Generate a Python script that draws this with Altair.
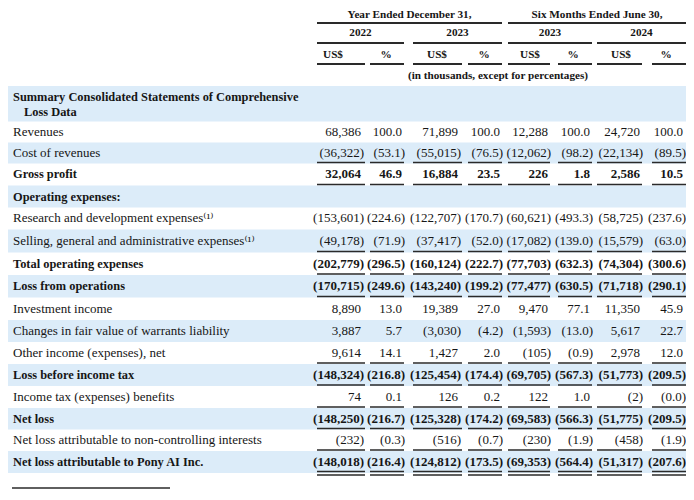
import math
import altair as alt
import pandas as pd

# ---------------- data ----------------
section_title = ["Summary Consolidated Statements of Comprehensive", "Loss Data"]
header_groups = ["Year Ended December 31,", "Six Months Ended June 30,"]
header_years = ["2022", "2023", "2023", "2024"]
column_units = ["US$", "%", "US$", "%", "US$", "%", "US$", "%"]
unit_note = "(in thousands, except for percentages)"

row_labels = [
    "Revenues",
    "Cost of revenues",
    "Gross profit",
    "Operating expenses:",
    "Research and development expenses\u207d\u00b9\u207e",
    "Selling, general and administrative expenses\u207d\u00b9\u207e",
    "Total operating expenses",
    "Loss from operations",
    "Investment income",
    "Changes in fair value of warrants liability",
    "Other income (expenses), net",
    "Loss before income tax",
    "Income tax (expenses) benefits",
    "Net loss",
    "Net loss attributable to non-controlling interests",
    "Net loss attributable to Pony AI Inc.",
]
bold_rows = [False, False, True, True, False, False, True, True,
             False, False, False, True, False, True, False, True]

usd_fy2022 = [68386, -36322, 32064, None, -153601, -49178, -202779, -170715,
              8890, 3887, 9614, -148324, 74, -148250, -232, -148018]
pct_fy2022 = [100.0, -53.1, 46.9, None, -224.6, -71.9, -296.5, -249.6,
              13.0, 5.7, 14.1, -216.8, 0.1, -216.7, -0.3, -216.4]
usd_fy2023 = [71899, -55015, 16884, None, -122707, -37417, -160124, -143240,
              19389, -3030, 1427, -125454, 126, -125328, -516, -124812]
pct_fy2023 = [100.0, -76.5, 23.5, None, -170.7, -52.0, -222.7, -199.2,
              27.0, -4.2, 2.0, -174.4, 0.2, -174.2, -0.7, -173.5]
usd_h12023 = [12288, -12062, 226, None, -60621, -17082, -77703, -77477,
              9470, -1593, -105, -69705, 122, -69583, -230, -69353]
pct_h12023 = [100.0, -98.2, 1.8, None, -493.3, -139.0, -632.3, -630.5,
              77.1, -13.0, -0.9, -567.3, 1.0, -566.3, -1.9, -564.4]
usd_h12024 = [24720, -22134, 2586, None, -58725, -15579, -74304, -71718,
              11350, 5617, 2978, -51773, -2, -51775, -458, -51317]
pct_h12024 = [100.0, -89.5, 10.5, None, -237.6, -63.0, -300.6, -290.1,
              45.9, 22.7, 12.0, -209.5, -0.0, -209.5, -1.9, -207.6]

columns = [usd_fy2022, pct_fy2022, usd_fy2023, pct_fy2023,
           usd_h12023, pct_h12023, usd_h12024, pct_h12024]

# rows that carry an underline beneath their figures (2 = double)
underlined = {1: 1, 2: 1, 5: 1, 6: 1, 7: 1, 10: 1, 11: 1, 12: 1, 13: 1, 14: 1, 15: 2}

# ---------------- layout (page pixels) ----------------
W, H = 678, 484
ROW_Y = [132, 153, 174, 197, 218, 241, 264, 286, 309, 331, 353, 375, 397, 419, 440, 462]
TITLE_Y = [97, 112]
TITLE_X = [13, 24]
BAND_TOP_FIRST = 86
LABEL_X = 13
COL_RIGHT = [361, 402, 458, 500, 548, 590, 640, 683]
PAREN_HANG = 3
COL_SPAN = [(317, 365), (370, 404), (413, 462), (468, 502),
            (508, 550), (558, 592), (597, 642), (652, 686)]
GROUP_SPAN = [(317, 502), (508, 686)]
YEAR_SPAN = [(317, 404), (413, 502), (508, 592), (597, 686)]
UNIT_X = [333, 386, 437, 484, 530, 573, 621, 666]
HDR_Y = [14.5, 33, 55, 76]
HDR_RULE_Y = [23, 43, 64]
NOTE_X = 498
BAND_X = (8, 686)
FOOT_RULE = (12, 170, 488)

FONT = "Liberation Serif, Times New Roman, DejaVu Serif, serif"
INK = "#161616"
BLUE = "#dcecf9"
LINE = "#2a2a2a"

xsc = alt.Scale(domain=[8, 8 + W], nice=False, zero=False)
ysc = alt.Scale(domain=[8, 8 + H], nice=False, zero=False, reverse=True)


def X(f="x"):
    return alt.X(f"{f}:Q", scale=xsc, axis=None)


def Y(f="y"):
    return alt.Y(f"{f}:Q", scale=ysc, axis=None)


def is_neg(v):
    return v < 0 or (v == 0 and math.copysign(1.0, v) < 0)


def fmt(v, pct):
    body = f"{abs(v):.1f}" if pct else f"{abs(int(v)):,}"
    return f"({body})" if is_neg(v) else body


# ---------------- derived tables ----------------
n = len(ROW_Y)
bounds = []
for i in range(n):
    top = (ROW_Y[i - 1] + ROW_Y[i]) / 2 if i > 0 else ROW_Y[i] - 10.5
    bot = (ROW_Y[i] + ROW_Y[i + 1]) / 2 if i < n - 1 else ROW_Y[i] + 11
    bounds.append((top, bot))

bands = [{"x": BAND_X[0], "x2": BAND_X[1], "y": BAND_TOP_FIRST, "y2": bounds[0][0]}]
for i in range(1, n, 2):
    bands.append({"x": BAND_X[0], "x2": BAND_X[1], "y": bounds[i][0], "y2": bounds[i][1]})
bands_df = pd.DataFrame(bands)

rules = []
for (a, b) in GROUP_SPAN:
    rules.append({"x": a, "x2": b, "y": HDR_RULE_Y[0], "w": 2})
for (a, b) in YEAR_SPAN:
    rules.append({"x": a, "x2": b, "y": HDR_RULE_Y[1], "w": 2})
for (a, b) in COL_SPAN:
    rules.append({"x": a, "x2": b, "y": HDR_RULE_Y[2], "w": 2})
for i, kind in underlined.items():
    yb = bounds[i][1] - 1
    for (a, b) in COL_SPAN:
        if kind == 2:
            rules.append({"x": a, "x2": b, "y": yb - 0.5, "w": 1.4})
            rules.append({"x": a, "x2": b, "y": yb + 3, "w": 1.4})
        else:
            rules.append({"x": a, "x2": b, "y": yb, "w": 1.4})
rules.append({"x": FOOT_RULE[0], "x2": FOOT_RULE[1], "y": FOOT_RULE[2], "w": 1.3})
rules_df = pd.DataFrame(rules)

lab_reg = pd.DataFrame([{"x": LABEL_X, "y": ROW_Y[i], "t": row_labels[i]}
                        for i in range(n) if not bold_rows[i]])
lab_bold = pd.DataFrame([{"x": LABEL_X, "y": ROW_Y[i], "t": row_labels[i]}
                         for i in range(n) if bold_rows[i]]
                        + [{"x": TITLE_X[k], "y": TITLE_Y[k], "t": section_title[k]} for k in range(2)])

nums = []
for c, col in enumerate(columns):
    for i, v in enumerate(col):
        if v is None:
            continue
        nums.append({"x": COL_RIGHT[c], "y": ROW_Y[i], "t": fmt(v, c % 2 == 1),
                     "neg": is_neg(v), "bold": bold_rows[i]})
nums_df = pd.DataFrame(nums)

hdr = []
for k, g in enumerate(header_groups):
    hdr.append({"x": (GROUP_SPAN[k][0] + GROUP_SPAN[k][1]) / 2, "y": HDR_Y[0], "t": g})
for k, yv in enumerate(header_years):
    hdr.append({"x": (YEAR_SPAN[k][0] + YEAR_SPAN[k][1]) / 2, "y": HDR_Y[1], "t": yv})
for k, u in enumerate(column_units):
    hdr.append({"x": UNIT_X[k], "y": HDR_Y[2], "t": u})
hdr.append({"x": NOTE_X, "y": HDR_Y[3], "t": unit_note})
hdr_df = pd.DataFrame(hdr)


def text_layer(df, size, weight, align, dx=0):
    return alt.Chart(df).mark_text(
        font=FONT, fontSize=size, fontWeight=weight, align=align,
        baseline="middle", dx=dx, color=INK
    ).encode(x=X(), y=Y(), text="t:N")


band_layer = alt.Chart(bands_df).mark_rect(color=BLUE).encode(
    x=X(), x2=alt.X2("x2:Q"), y=Y(), y2=alt.Y2("y2:Q"))

rule_layer = alt.Chart(rules_df).mark_rule(color=LINE).encode(
    x=X(), x2=alt.X2("x2:Q"), y=Y(), strokeWidth=alt.StrokeWidth("w:Q", scale=None))

layers = [
    band_layer,
    rule_layer,
    text_layer(lab_reg, 13, "normal", "left"),
    text_layer(lab_bold, 12.4, "bold", "left"),
    text_layer(nums_df[(~nums_df.neg) & (~nums_df.bold)], 13, "normal", "right"),
    text_layer(nums_df[(nums_df.neg) & (~nums_df.bold)], 13, "normal", "right", PAREN_HANG),
    text_layer(nums_df[(~nums_df.neg) & (nums_df.bold)], 13, "bold", "right"),
    text_layer(nums_df[(nums_df.neg) & (nums_df.bold)], 13, "bold", "right", PAREN_HANG),
    text_layer(hdr_df, 11.2, "bold", "center"),
]

chart = alt.layer(*layers).properties(
    width=W, height=H, padding=0,
    autosize=alt.AutoSizeParams(type="none"),
    background="white",
).configure_view(stroke=None)

chart.save("out.html", embed_options={"renderer": "svg", "actions": False})
